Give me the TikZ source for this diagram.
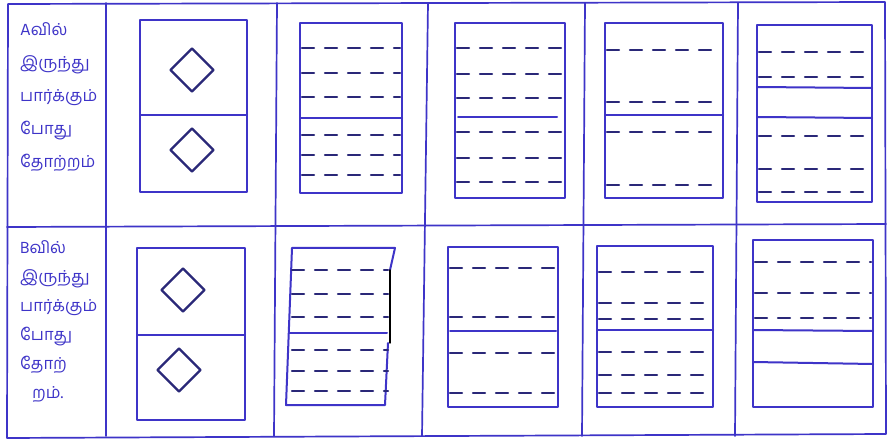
\documentclass[tikz,border=0pt]{standalone}
\usepackage{fontspec}
\newfontfamily\tamil[Script=Tamil]{Hind Madurai}
\usetikzlibrary{shapes.geometric}
\definecolor{ink}{RGB}{62,52,200}
\definecolor{darkink}{RGB}{42,40,120}

\begin{document}
\begin{tikzpicture}[x=1pt, y=-1pt, line cap=round, line join=round,
  tableline/.style={ink, line width=1.7pt},
  boxline/.style={ink, line width=2pt},
  dashln/.style={darkink, line width=2.3pt, dash pattern=on 12pt off 11pt},
  gem/.style={diamond, draw=darkink, line width=2.4pt, minimum size=44pt, inner sep=0pt},
  tamiltext/.style={font=\tamil\fontsize{16.5}{33}\selectfont, text=ink, align=left, anchor=north west, inner sep=0pt}]
  \useasboundingbox[fill=white] (0,0) rectangle (896,446);

  % the table
  \draw[tableline] (8,4) -- (885,2) -- (886,434) -- (7,438) -- cycle;
  \draw[tableline] (7,227) -- (886,224);
  \foreach \xa/\xb in {106/106, 277/274, 428/422, 585/582, 738/735}
    \draw[tableline] (\xa,3) -- (\xb,436);

  % row titles
  \node[tamiltext] (viewA) at (20,22) {Aவில்\\இருந்து\\பார்க்கும்\\போது\\தோற்றம்};
  \node[tamiltext, font=\tamil\fontsize{16.5}{29}\selectfont] (viewB) at (20,240)
    {Bவில்\\இருந்து\\பார்க்கும்\\போது\\தோற்\\\hspace{12pt}றம்.};

  % diamond column
  \draw[boxline] (140,20) rectangle (247,192);
  \draw[boxline] (140,115) -- (247,115);
  \node[gem] (a1) at (192,70) {};
  \node[gem] (a2) at (192,150) {};
  \draw[boxline] (137,248) rectangle (245,420);
  \draw[boxline] (137,335) -- (245,335);
  \node[gem] (b1) at (183,290) {};
  \node[gem] (b2) at (179,370) {};

  % row A
  \draw[boxline] (300,23) rectangle (402,193);
  \draw[boxline] (300,118) -- (402,118);
  \foreach \y in {48,73,97,135,155,175}
    \draw[dashln] (302,\y) -- (400,\y);

  \draw[boxline] (455,23) rectangle (565,198);
  \draw[boxline] (458,117) -- (557,117);
  \foreach \y in {48,74,98,132,158,182}
    \draw[dashln] (457,\y) -- (563,\y);

  \draw[boxline] (605,23) rectangle (723,198);
  \draw[boxline] (605,115) -- (723,115);
  \foreach \y in {50,102,132,185}
    \draw[dashln] (607,\y) -- (721,\y);

  \draw[boxline] (757,25) rectangle (872,202);
  \draw[boxline] (757,87) -- (872,88);
  \draw[boxline] (757,117) -- (872,118);
  \foreach \y in {52,77,136,169,192}
    \draw[dashln] (759,\y) -- (870,\y);

  % row B
  \draw[boxline] (292,248) -- (395,248) -- (390,270);
  \draw[boxline] (292,248) -- (286,405) -- (385,405) -- (388,343);
  \draw[boxline] (289,333) -- (387,333);
  \foreach \y in {270,294,317,350,371,391}
    \draw[dashln] (292,\y) -- (388,\y);
  \draw[black, line width=1.4pt] (390,270) -- (390,343);

  \draw[boxline] (448,247) rectangle (558,407);
  \draw[boxline] (450,331) -- (556,331);
  \foreach \y in {268,317,353,393}
    \draw[dashln] (450,\y) -- (556,\y);

  \draw[boxline] (597,246) rectangle (713,407);
  \draw[boxline] (597,330) -- (713,330);
  \foreach \y in {272,303,319,352,375,393}
    \draw[dashln] (599,\y) -- (711,\y);

  \draw[boxline] (753,240) rectangle (873,407);
  \draw[boxline] (753,330) -- (873,331);
  \draw[boxline] (753,362) -- (873,364);
  \foreach \y in {262,293,318}
    \draw[dashln] (755,\y) -- (871,\y);
\end{tikzpicture}
\end{document}
